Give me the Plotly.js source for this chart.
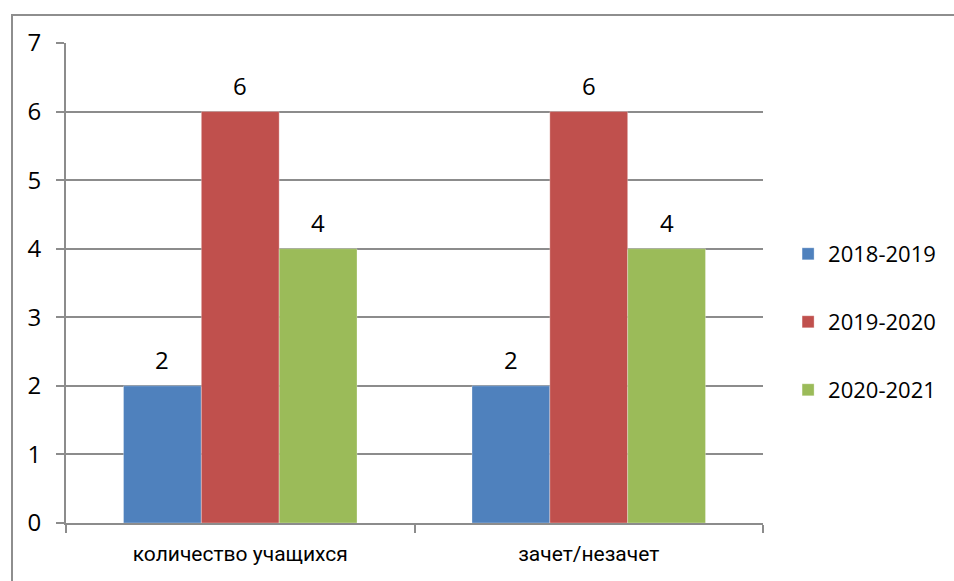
<!DOCTYPE html>
<html>
<head>
<meta charset="utf-8">
<script src="https://cdn.plot.ly/plotly-3.0.1.min.js"></script>
<style>
  html, body { margin: 0; padding: 0; overflow: hidden; background: #fff; }
  #chart { width: 954px; height: 581px; position: absolute; left: 0; top: 0; }
  #frame { position: absolute; left: 11px; top: 14px; width: 960px; height: 600px;
           border: 2px solid #8e8e8e; pointer-events: none; box-sizing: border-box; }
</style>
</head>
<body>
<div id="chart"></div>
<div id="frame"></div>
<script>
const categories = ["количество учащихся", "зачет/незачет"];
const seriesNames = ["2018-2019", "2019-2020", "2020-2021"];
const values2018 = [2, 2];
const values2019 = [6, 6];
const values2020 = [4, 4];
const yTicks = [0, 1, 2, 3, 4, 5, 6, 7];

const colors = ["#4F81BD", "#C0504D", "#9BBB59"];
const seriesValues = [values2018, values2019, values2020];
const legendIds = ["legend", "legend2", "legend3"];
const FONT = "Open Sans, Liberation Sans, sans-serif";
const XFONT = "Roboto, Open Sans, sans-serif";

const W = 954, H = 581;
const margin = { l: 66, r: 191, t: 43, b: 58 };
const bargap = 0.33;
const plotW = W - margin.l - margin.r;
const barPx = plotW / categories.length * (1 - bargap) / seriesValues.length;

const traces = seriesValues.map((vals, i) => ({
  type: "bar",
  name: seriesNames[i],
  x: categories,
  y: vals,
  marker: { color: colors[i], line: { color: "rgba(255,255,255,0.6)", width: 0.5 } },
  legend: legendIds[i],
  hoverinfo: "none"
}));

// data labels, anchored to each bar through the axes
const annotations = [];
seriesValues.forEach((vals, i) => {
  vals.forEach((v, j) => {
    annotations.push({
      xref: "x", yref: "y", x: categories[j], y: v,
      xshift: (i - (seriesValues.length - 1) / 2) * barPx,
      yshift: 26, yanchor: "middle", xanchor: "center",
      text: String(v), showarrow: false,
      font: { family: FONT, size: 24, color: "#000" }
    });
  });
});

const legendY = [0.5604, 0.4188, 0.2771];
const legendBase = (y) => ({
  x: 1.036, xanchor: "left", y: y, yanchor: "middle",
  font: { family: FONT, size: 22, color: "#000" },
  bgcolor: "rgba(0,0,0,0)", borderwidth: 0,
  itemwidth: 30
});

const layout = {
  width: W, height: H,
  margin: margin,
  paper_bgcolor: "#fff", plot_bgcolor: "#fff",
  barmode: "group",
  bargap: bargap, bargroupgap: 0,
  showlegend: true,
  legend: legendBase(legendY[0]),
  legend2: legendBase(legendY[1]),
  legend3: legendBase(legendY[2]),
  annotations: annotations,
  xaxis: {
    type: "category",
    showgrid: false,
    showline: true, linecolor: "#8c8c8c", linewidth: 2,
    ticks: "outside", ticklen: 8, tickcolor: "#8c8c8c", tickwidth: 2,
    tickson: "boundaries",
    ticklabelstandoff: 11,
    tickfont: { family: XFONT, size: 21, color: "#000" },
    fixedrange: true
  },
  yaxis: {
    range: [0, 7],
    tickvals: yTicks,
    showgrid: true, gridcolor: "#8c8c8c", gridwidth: 2,
    zeroline: false,
    showline: true, linecolor: "#8c8c8c", linewidth: 2,
    ticks: "outside", ticklen: 8, tickcolor: "#8c8c8c", tickwidth: 2,
    ticklabelstandoff: 10,
    tickfont: { family: FONT, size: 24, color: "#000" },
    fixedrange: true
  }
};

Plotly.newPlot("chart", traces, layout, { displayModeBar: false, staticPlot: true });
</script>
</body>
</html>
